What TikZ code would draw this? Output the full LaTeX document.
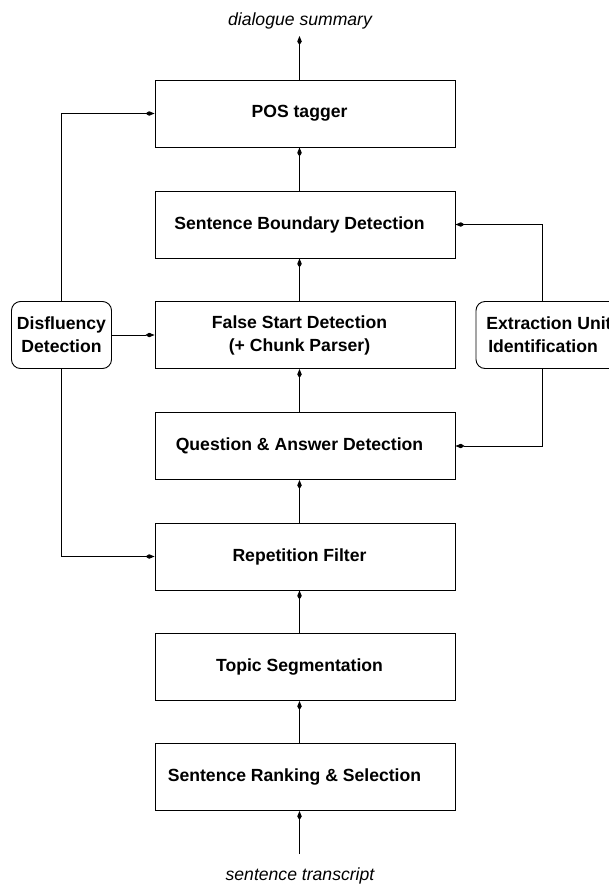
\documentclass[tikz,border=0pt]{standalone}
\usepackage{fontspec}
\setmainfont{Liberation Sans}
\usetikzlibrary{arrows.meta}

\begin{document}
\begin{tikzpicture}[x=1pt,y=-1pt,
  txt/.style={font=\fontsize{17.6}{23}\selectfont},
  bold/.style={align=center, inner sep=0pt, font=\fontsize{17.6}{23}\selectfont\bfseries},
  stage/.style={draw, line width=0.9pt, minimum width=300pt, minimum height=67pt, inner sep=0pt},
  side/.style={draw, bold, line width=0.9pt, rounded corners=9pt, minimum height=67pt, minimum width=100pt},
  io/.style={font=\fontsize{17.6}{23}\selectfont\itshape},
  flow/.style={line width=0.9pt, -{Kite[length=9pt,width=4.5pt,inset=3.5pt]}},
  caption/.style={label={[bold, xshift=-5.5pt]center:#1}}]

  \useasboundingbox (0,0) rectangle (609,886);

  % pipeline stages, top to bottom
  \node[stage, caption={POS tagger}] (pos) at (305,113.5) {};
  \node[stage, caption={Sentence Boundary Detection}] (sbd) at (305,224.5) {};
  \node[stage, caption={False Start Detection\\(+ Chunk Parser)}] (fsd) at (305,335) {};
  \node[stage, caption={Question \& Answer Detection}] (qa) at (305,446) {};
  \node[stage, caption={Repetition Filter}] (rf) at (305,556.5) {};
  \node[stage, caption={Topic Segmentation}] (ts) at (305,667) {};
  \node[stage, caption={\hspace*{-10pt}Sentence Ranking \& Selection}] (srs) at (305,777) {};

  % side modules
  \node[side] (dis) at (61.5,335) {Disfluency\\Detection};
  \node[side, minimum width=146pt] (ext) at (549,335) {Extraction Unit\\\hspace*{-12pt}Identification};

  % input and output labels
  \node[io] (summary) at (300,21) {dialogue summary};
  \node[io] (transcript) at (300,876) {sentence transcript};
  \coordinate (out) at (299.5,36);
  \coordinate (in) at (299.5,854);

  % main data flow
  \draw[flow] (in) -- ([xshift=-5.5pt]srs.south);
  \draw[flow] ([xshift=-5.5pt]srs.north) -- ([xshift=-5.5pt]ts.south);
  \draw[flow] ([xshift=-5.5pt]ts.north) -- ([xshift=-5.5pt]rf.south);
  \draw[flow] ([xshift=-5.5pt]rf.north) -- ([xshift=-5.5pt]qa.south);
  \draw[flow] ([xshift=-5.5pt]qa.north) -- ([xshift=-5.5pt]fsd.south);
  \draw[flow] ([xshift=-5.5pt]fsd.north) -- ([xshift=-5.5pt]sbd.south);
  \draw[flow] ([xshift=-5.5pt]sbd.north) -- ([xshift=-5.5pt]pos.south);
  \draw[flow] ([xshift=-5.5pt]pos.north) -- (out);

  % disfluency feeds
  \draw[flow] (dis.north) |- (pos.west);
  \draw[flow] (dis.east) -- (fsd.west);
  \draw[flow] (dis.south) |- (rf.west);

  % extraction unit feeds
  \draw[flow] ([xshift=-6.5pt]ext.north) |- (sbd.east);
  \draw[flow] ([xshift=-6.5pt]ext.south) |- (qa.east);
\end{tikzpicture}
\end{document}
